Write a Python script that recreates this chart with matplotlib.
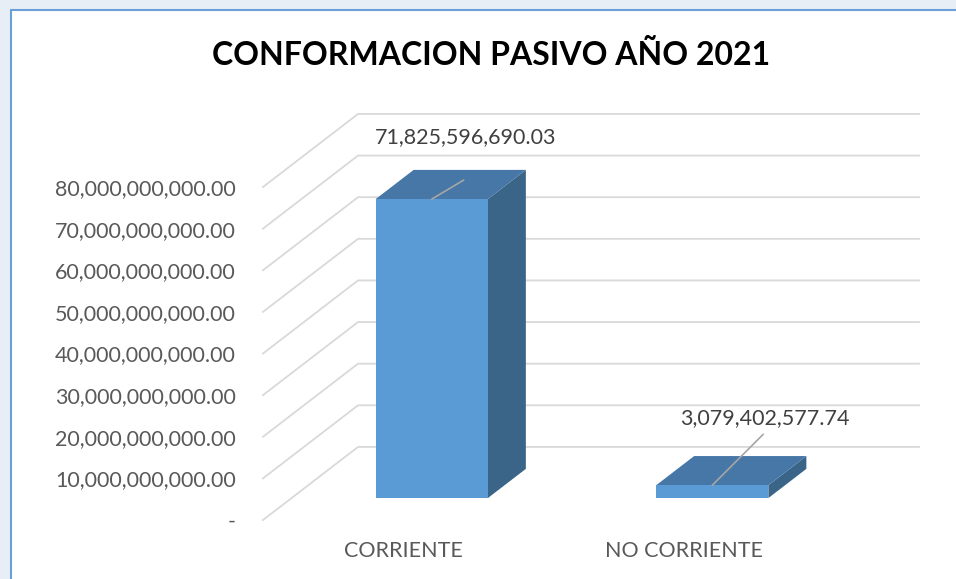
import matplotlib
matplotlib.use("Agg")
import matplotlib.pyplot as plt
from matplotlib.patches import Polygon, Rectangle

plt.rcParams['font.family'] = ['Lato', 'DejaVu Sans']

# data
categories = ["CORRIENTE", "NO CORRIENTE"]
values = [71825596690.03, 3079402577.74]
y_ticks = [0, 1e10, 2e10, 3e10, 4e10, 5e10, 6e10, 7e10, 8e10]
title = "CONFORMACION PASIVO AÑO 2021"

# oblique 3D look: depth z in [0, 1] shifts points right / up in data units
DX = 0.3387
DY = 1.755e10
BAR_W = 0.4
Z_FRONT, Z_BACK = 0.30, 0.70

FRONT = "#5B9BD5"
TOP = "#4677A6"
SIDE = "#3A6488"
GRID = "#d9d9d9"


def proj(x, y, z):
    return x + z * DX, y + z * DY


fig = plt.figure(figsize=(9.56, 5.79), dpi=100, facecolor="#e8eef5")
fig.patches.append(Rectangle((11 / 956, -0.05), 1.1, 1.05 - 10 / 579,
                             transform=fig.transFigure, facecolor="white",
                             edgecolor="#6a9fd8", lw=1.5, zorder=-1))

ax = fig.add_axes([263 / 956, 59 / 579, 561 / 956, 333 / 579])
ax.set_xlim(0, len(categories))
ax.set_ylim(0, 8e10)
ax.patch.set_alpha(0)
for s in ax.spines.values():
    s.set_visible(False)

# side wall + back wall gridlines
for v in y_ticks:
    pts = [proj(0, v, 0), proj(0, v, 1), proj(len(categories), v, 1)]
    ax.plot([p[0] for p in pts], [p[1] for p in pts], color=GRID, lw=1.3,
            clip_on=False, zorder=1)

# bars
for i, v in enumerate(values):
    xl = i + 0.5 - BAR_W / 2
    xr = i + 0.5 + BAR_W / 2
    side = [proj(xr, 0, Z_FRONT), proj(xr, 0, Z_BACK), proj(xr, v, Z_BACK), proj(xr, v, Z_FRONT)]
    top = [proj(xl, v, Z_FRONT), proj(xr, v, Z_FRONT), proj(xr, v, Z_BACK), proj(xl, v, Z_BACK)]
    front = [proj(xl, 0, Z_FRONT), proj(xr, 0, Z_FRONT), proj(xr, v, Z_FRONT), proj(xl, v, Z_FRONT)]
    for poly, c in [(side, SIDE), (top, TOP), (front, FRONT)]:
        ax.add_patch(Polygon(poly, closed=True, facecolor=c, edgecolor="none",
                             clip_on=False, zorder=3))

# data labels with leader lines
leader_off = [(23, 13.7), (36.7, 36.7)]
label_off = [(24.5, 40.3), (38.2, 43.9)]
for i, v in enumerate(values):
    base = proj(i + 0.5, v, Z_FRONT)
    ax.annotate("", xy=base, xytext=leader_off[i], textcoords="offset points",
                arrowprops=dict(arrowstyle="-", color="#a6a6a6", lw=1.2,
                                shrinkA=0, shrinkB=0), zorder=4)
    ax.annotate(f"{v:,.2f}", xy=base, xytext=label_off[i], textcoords="offset points",
                ha="center", va="baseline", fontsize=15.5, color="#404040",
                annotation_clip=False, zorder=5)

ax.set_yticks(y_ticks, [f"{t:,.2f}" if t else "-" for t in y_ticks])
ax.set_xticks([i + 0.5 for i in range(len(categories))], categories)
ax.tick_params(axis="y", length=0, pad=19.4, labelsize=15.5, labelcolor="#595959")
ax.tick_params(axis="x", length=0, pad=15, labelsize=15.5, labelcolor="#595959")

fig.text(491 / 956, 1 - 65 / 579, title, ha="center", va="baseline",
         fontsize=23, fontweight="bold", color="black")

fig.savefig("out.png", dpi=100, facecolor=fig.get_facecolor())
